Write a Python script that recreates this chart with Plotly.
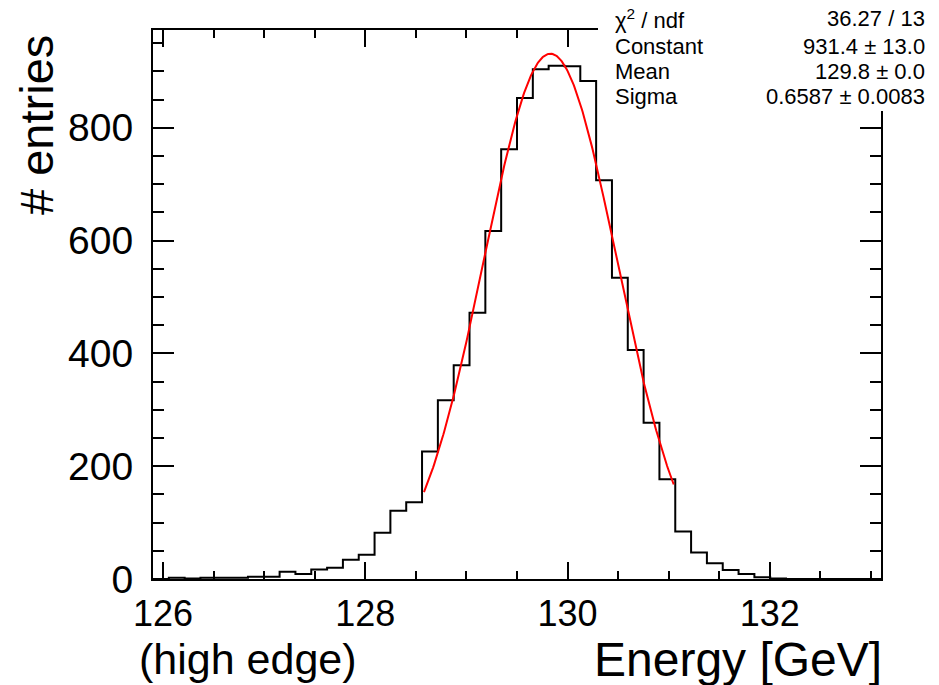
import numpy as np
import plotly.graph_objects as go

# ---------------- data ----------------
x_min = 125.9
x_max = 133.1
n_bins = 46
counts = [0, 2, 1, 2, 2, 2, 4, 4,
          13, 9, 17, 20, 34, 43, 82, 121,
          136, 226, 317, 379, 472, 617, 762, 853,
          904, 910, 909, 883, 707, 534, 406, 277,
          177, 84, 47, 28, 16, 9, 3, 1,
          0, 0, 0, 0, 0, 0]

fit_const = 931.4
fit_mean = 129.83
fit_sigma = 0.6587
fit_lo = 128.58
fit_hi = 131.05

stat_labels = ["χ<sup>2</sup> / ndf", "Constant", "Mean", "Sigma"]
stat_values = ["36.27 / 13", "931.4 ± 13.0", "129.8 ± 0.0", "0.6587 ± 0.0083"]

x_title = "Energy [GeV]"
x_note = "(high edge)"
y_title = "# entries"

# ---------------- geometry ----------------
W, H = 939, 685
L, R, T, B = 153, 58, 30, 106
PW, PH = W - L - R, H - T - B
y_max = 973.4


def px(xp):
    return (xp - L) / PW


def py(yp):
    return (H - B - yp) / PH


FONT = "Liberation Sans, Arial, Helvetica, sans-serif"

edges = np.linspace(x_min, x_max, n_bins + 1)
step_x = list(edges)
step_y = list(counts) + [counts[-1]]

fx = np.linspace(fit_lo, fit_hi, 300)
fy = fit_const * np.exp(-0.5 * ((fx - fit_mean) / fit_sigma) ** 2)

fig = go.Figure()
fig.add_trace(go.Scatter(x=step_x, y=step_y, mode="lines",
                         line=dict(shape="hv", color="black", width=2),
                         hoverinfo="skip", showlegend=False))
fig.add_trace(go.Scatter(x=fx, y=fy, mode="lines",
                         line=dict(color="red", width=2),
                         hoverinfo="skip", showlegend=False))

axis_common = dict(showgrid=False, zeroline=False, showline=True,
                   linecolor="black", linewidth=2, mirror="ticks",
                   ticks="inside", tickcolor="black", tickwidth=2,
                   tickfont=dict(family=FONT, color="black"))

fig.update_xaxes(range=[x_min, x_max], tickmode="linear", tick0=126, dtick=2,
                 ticklen=17, tickfont_size=36, ticklabelstandoff=2,
                 minor=dict(tick0=126, dtick=0.5, ticks="inside", ticklen=8,
                            tickwidth=2, tickcolor="black"),
                 **axis_common)
fig.update_yaxes(range=[0, y_max], tickmode="linear", tick0=0, dtick=200,
                 ticklen=21, tickfont_size=39, ticklabelstandoff=10,
                 minor=dict(tick0=0, dtick=50, ticks="inside", ticklen=11,
                            tickwidth=2, tickcolor="black"),
                 **axis_common)

# stats box (white, covers frame corner)
fig.add_shape(type="rect", xref="paper", yref="paper",
              x0=px(598), x1=px(W + 5), y0=py(111), y1=py(-5),
              fillcolor="white", line=dict(width=0), layer="above")

row_y = [19, 46.5, 72, 96]
for lab, val, yy in zip(stat_labels, stat_values, row_y):
    fig.add_annotation(text=lab, xref="paper", yref="paper", x=px(613), y=py(yy),
                       xanchor="left", yanchor="middle", showarrow=False,
                       font=dict(family=FONT, size=22, color="black"))
    fig.add_annotation(text=val, xref="paper", yref="paper", x=px(927), y=py(yy),
                       xanchor="right", yanchor="middle", showarrow=False,
                       font=dict(family=FONT, size=22, color="black"))

fig.add_annotation(text=x_title, xref="paper", yref="paper", x=px(884), y=py(659),
                   xanchor="right", yanchor="middle", showarrow=False,
                   font=dict(family=FONT, size=48, color="black"))
fig.add_annotation(text=x_note, xref="paper", yref="paper", x=px(137), y=py(659),
                   xanchor="left", yanchor="middle", showarrow=False,
                   font=dict(family=FONT, size=43, color="black"))
fig.add_annotation(text=y_title, xref="paper", yref="paper", x=px(36), y=py(125),
                   xanchor="center", yanchor="middle", textangle=-90, showarrow=False,
                   font=dict(family=FONT, size=47, color="black"))

fig.update_layout(width=W, height=H, autosize=False,
                  margin=dict(l=L, r=R, t=T, b=B, pad=0),
                  plot_bgcolor="white", paper_bgcolor="white",
                  showlegend=False)

fig.write_html("out.html")
